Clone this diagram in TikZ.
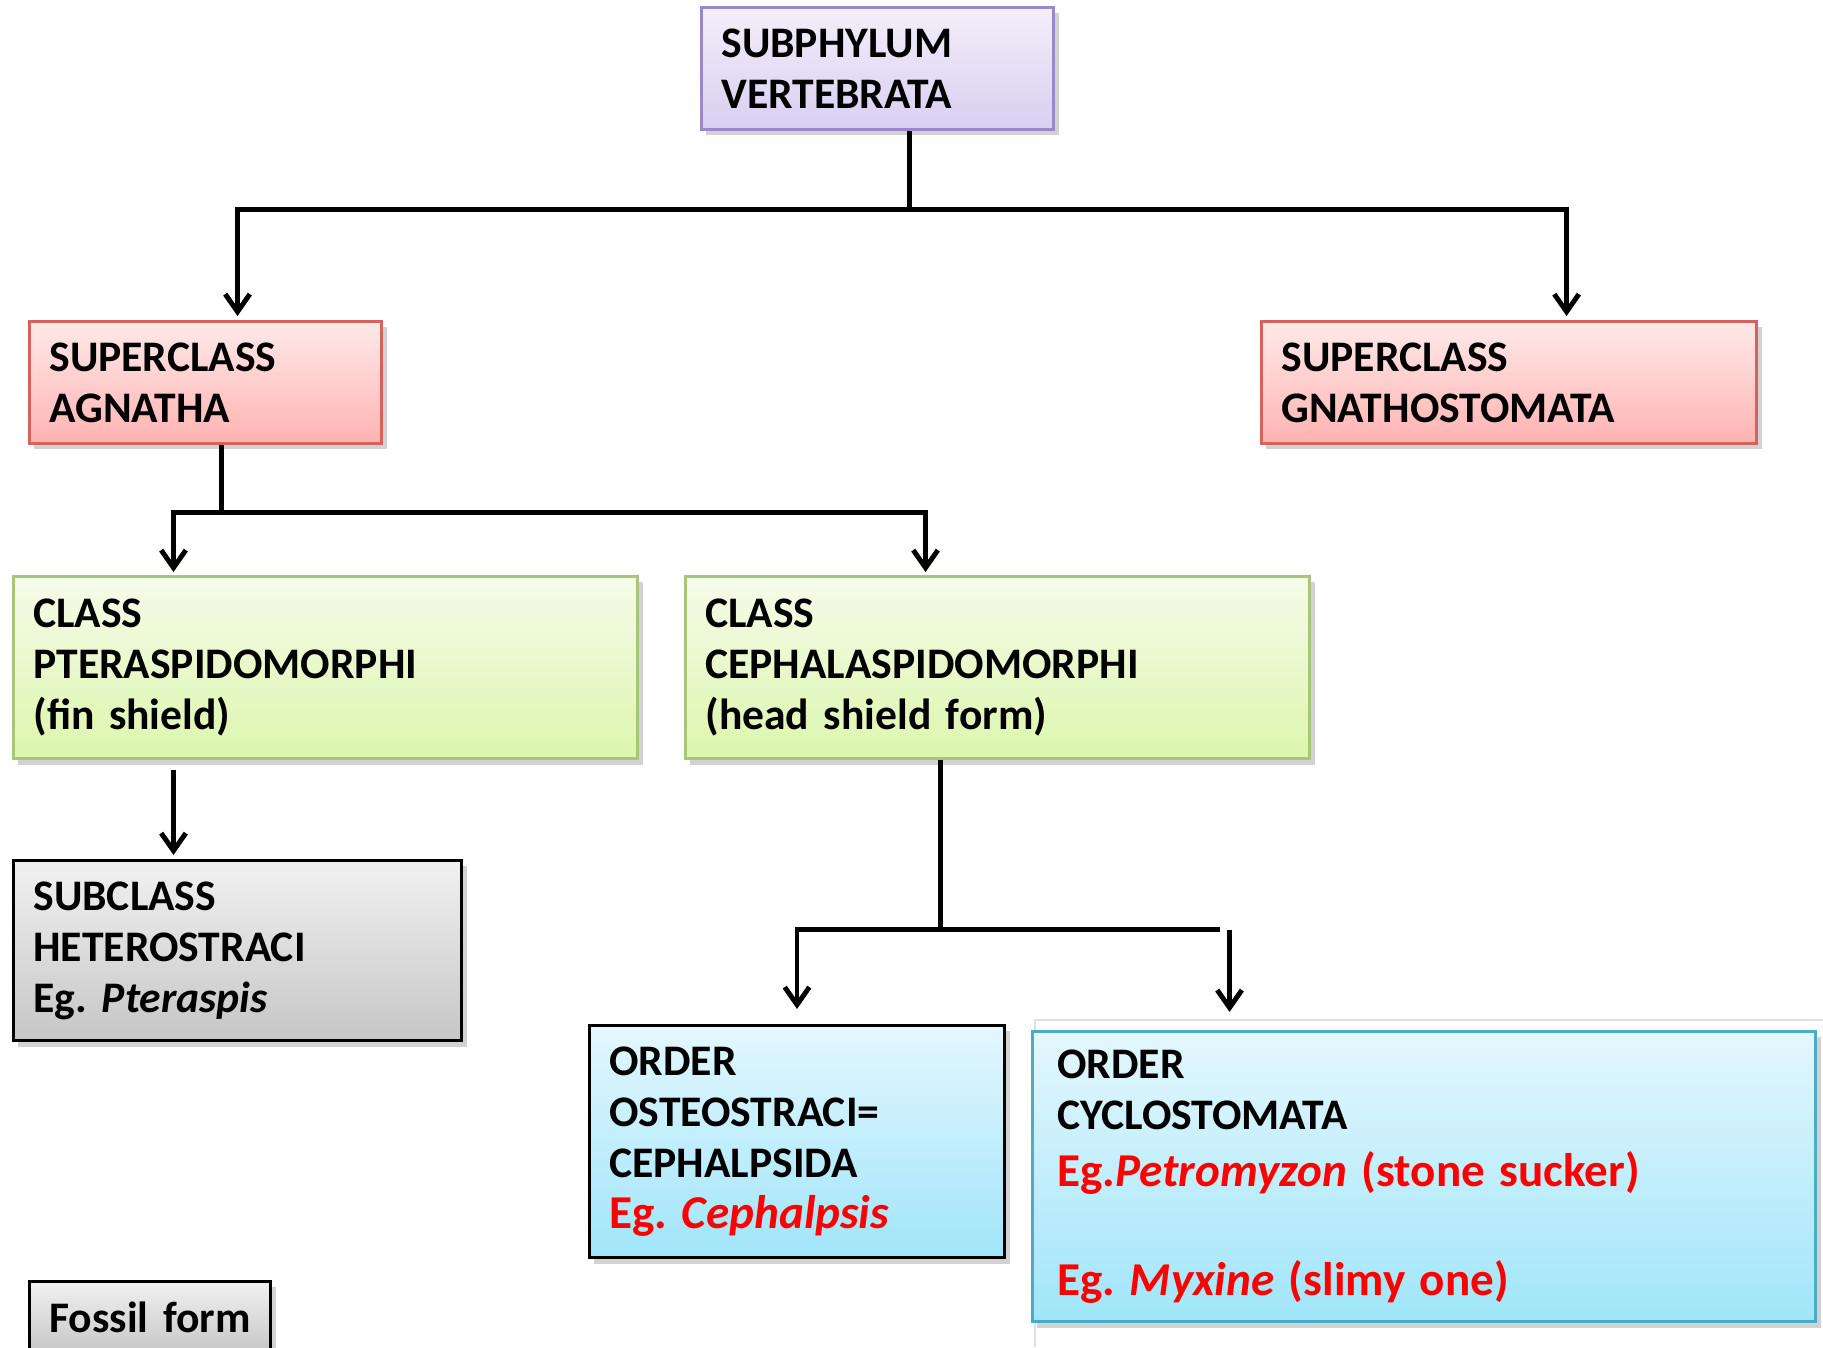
\documentclass[tikz,border=0pt]{standalone}
\usepackage{fontspec}
\setmainfont{Carlito}
\frenchspacing
\usetikzlibrary{arrows.meta,positioning,shadows,calc}
\definecolor{txPurpleLine}{HTML}{9A88CC}
\definecolor{txPurpleTop}{HTML}{F3EFFA}
\definecolor{txPurpleBot}{HTML}{D9CEF0}
\definecolor{txRedLine}{HTML}{D4625F}
\definecolor{txRedTop}{HTML}{FFE9E9}
\definecolor{txRedBot}{HTML}{FFB3B2}
\definecolor{txGreenLine}{HTML}{A6C779}
\definecolor{txGreenTop}{HTML}{F5FBE9}
\definecolor{txGreenBot}{HTML}{DCF6AD}
\definecolor{txGreyTop}{HTML}{F1F1F1}
\definecolor{txGreyBot}{HTML}{C6C6C6}
\definecolor{txBlueLine}{HTML}{4BACC6}
\definecolor{txBlueTop}{HTML}{E4F7FD}
\definecolor{txBlueBot}{HTML}{A0E5FA}
\definecolor{txRedInk}{HTML}{FF0000}
\newcommand{\egfont}{\color{txRedInk}\fontsize{13.4}{16.4}\selectfont}
\tikzset{
  taxbox/.style    ={rectangle,draw,line width=0.8pt,anchor=north west,align=left,
                     inner xsep=0.2cm,inner ysep=0pt,
                     font=\fontsize{12.4}{14.5}\selectfont\bfseries,
                     drop shadow={opacity=0.35,shadow xshift=0.05cm,shadow yshift=-0.06cm}},
  phylumbox/.style ={taxbox,draw=txPurpleLine,top color=txPurpleTop,bottom color=txPurpleBot},
  superbox/.style  ={taxbox,draw=txRedLine,top color=txRedTop,bottom color=txRedBot},
  classbox/.style  ={taxbox,draw=txGreenLine,top color=txGreenTop,bottom color=txGreenBot},
  fossilbox/.style ={taxbox,draw=black,top color=txGreyTop,bottom color=txGreyBot},
  orderbox/.style  ={taxbox,draw=black,top color=txBlueTop,bottom color=txBlueBot},
  link/.style      ={black,line width=1.4pt},
  arr/.style       ={link,-{Straight Barb[length=5pt,width=7pt]}},
}
\begin{document}
\begin{tikzpicture}[x=0.01cm,y=-0.01cm]
\path[use as bounding box,fill=white] (0,0) rectangle (1823,1347);

\node[phylumbox,minimum width=3.52cm,minimum height=1.22cm,text width=3.12cm] (vert) at (700,6)
  {SUBPHYLUM\\VERTEBRATA};

\node[superbox,minimum width=3.52cm,minimum height=1.22cm,text width=3.12cm] (agna) at (28,320)
  {SUPERCLASS\\AGNATHA};
\node[superbox,minimum width=4.95cm,minimum height=1.22cm,text width=4.55cm] (gnat) at (1260,320)
  {SUPERCLASS\\GNATHOSTOMATA};

\node[classbox,minimum width=6.24cm,minimum height=1.82cm,text width=5.84cm] (ptera) at (12,575)
  {CLASS\\PTERASPIDOMORPHI\\(fin shield)};
\node[classbox,minimum width=6.24cm,minimum height=1.82cm,text width=5.84cm] (cepha) at (684,575)
  {CLASS\\CEPHALASPIDOMORPHI\\(head shield form)};

\node[fossilbox,minimum width=4.48cm,minimum height=1.80cm,text width=4.08cm] (hetero) at (12,859)
  {SUBCLASS\\HETEROSTRACI\\Eg. \textit{Pteraspis}};

\node[orderbox,minimum width=4.15cm,minimum height=2.32cm,text width=3.75cm] (osteo) at (588,1024)
  {ORDER\\OSTEOSTRACI=\\CEPHALPSIDA\\\egfont Eg. \textit{Cephalpsis}};

% faint frame behind the cyclostomes
\draw[black!12,line width=0.6pt] (1035,1347) |- (1823,1020);
\node[orderbox,draw=txBlueLine,inner xsep=0.25cm,minimum width=7.83cm,minimum height=2.90cm,
      text width=7.33cm] (cyclo) at (1031,1030)
  {ORDER\\CYCLOSTOMATA\\\egfont Eg.\textit{Petromyzon} (stone sucker)\\\mbox{}\\Eg. \textit{Myxine} (slimy one)};

\node[fossilbox,minimum width=2.41cm,minimum height=0.72cm,inner xsep=0.1cm,text width=2.21cm] (fossil) at (28,1280)
  {\hspace*{0.1cm}Fossil form};

% vertebrata -> superclasses
\draw[link] ([xshift=0.32cm]vert.south) -- ++(0,79) coordinate (vj);
\draw[arr] (vj) -| ([xshift=0.32cm,yshift=0.04cm]agna.north);
\draw[arr] (vj) -| ([xshift=0.575cm,yshift=0.04cm]gnat.north);

% agnatha -> classes
\draw[link] ([xshift=0.16cm]agna.south) -- ++(0,68) coordinate (aj);
\draw[arr] (aj) -| ([xshift=-1.52cm,yshift=0.03cm]ptera.north);
\draw[arr] (aj) -| ([xshift=-0.72cm,yshift=0.03cm]cepha.north);

\draw[arr] ([xshift=-1.52cm,yshift=-0.10cm]ptera.south) -- ([xshift=-0.64cm,yshift=0.04cm]hetero.north);

% cephalaspidomorphi -> orders
\draw[link] ([xshift=-0.57cm]cepha.south) -- ++(0,170) coordinate (cj);
\draw[link] (cj) -- ++(279,0) coordinate (cje);
\draw[arr] (cj) -| ([yshift=0.15cm]osteo.north);
\draw[arr] ([xshift=0.1cm]cje) -- ++(0,82);
\end{tikzpicture}
\end{document}
